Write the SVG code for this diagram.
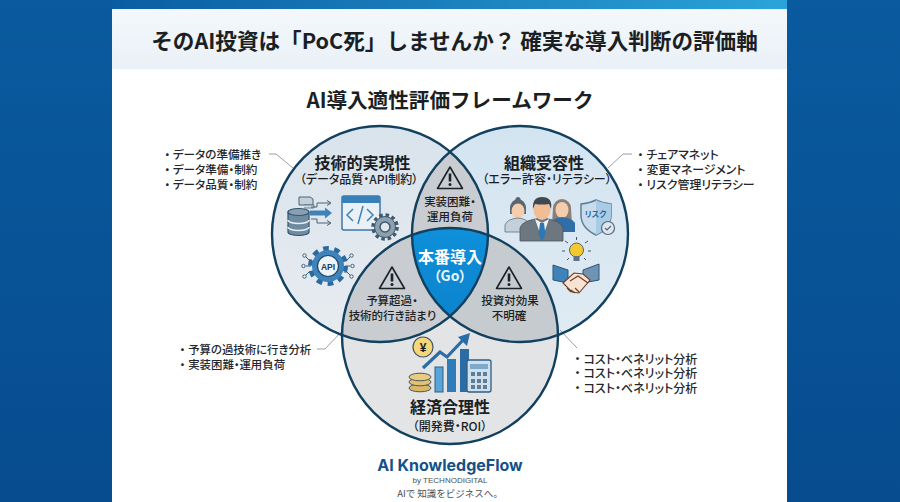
<svg xmlns="http://www.w3.org/2000/svg" width="900" height="502" viewBox="0 0 900 502">
<style>
text{font-family:"Noto Sans CJK JP","Noto Sans",sans-serif;fill:#1b1f24;text-anchor:middle}
.b{font-weight:700}.m{font-weight:500}
.p{font-feature-settings:"palt"}
.li{font-weight:500;text-anchor:start;fill:#23272c;font-feature-settings:"palt"}
.ring{fill:none;stroke:#12405f;stroke-width:2.4}
.lead{fill:none;stroke:#8d959b;stroke-width:.9}
.tri{fill:none;stroke:#1b2228;stroke-width:1.600;stroke-linejoin:round}
.ov{font-size:11.500px;font-weight:500;font-feature-settings:"palt"}
.gd{fill:none;stroke:#4a6577;stroke-width:1}
</style>
<defs>
<linearGradient id="bg" x1="0" y1="0" x2="0" y2="1"><stop offset="0" stop-color="#0a5a9f"/><stop offset="1" stop-color="#064c8e"/></linearGradient>
<linearGradient id="bar" x1="0" y1="0" x2="1" y2="0"><stop offset="0" stop-color="#0a5da3"/><stop offset="1" stop-color="#2ba3da"/></linearGradient>
<linearGradient id="hd" x1="0" y1="0" x2="0" y2="1"><stop offset="0" stop-color="#f4f8fb"/><stop offset="1" stop-color="#e9f0f6"/></linearGradient>
<linearGradient id="lg" x1="0" y1="0" x2="0" y2="1"><stop offset="0" stop-color="#d9e3ec"/><stop offset="1" stop-color="#e8ecf0"/></linearGradient>
<linearGradient id="rg" x1="0" y1="0" x2="0" y2="1"><stop offset="0" stop-color="#d3e4f1"/><stop offset="1" stop-color="#e0ebf3"/></linearGradient>
<linearGradient id="go" x1="0" y1="0" x2="0" y2="1"><stop offset="0" stop-color="#0f90da"/><stop offset="1" stop-color="#0871bb"/></linearGradient>
<clipPath id="cL"><circle cx="380" cy="234" r="108"/></clipPath>
<clipPath id="cR"><circle cx="520" cy="234" r="108"/></clipPath>
<g id="warn"><path class="tri" d="M0-11L12.500 10.500H-12.500Z"/><rect x="-1.300" y="-4.500" width="2.600" height="8" fill="#1b2228"/><circle cy="6.500" r="1.500" fill="#1b2228"/></g>
</defs>
<rect width="900" height="502" fill="url(#bg)"/>
<rect x="112" y="0" width="675" height="9" fill="url(#bar)"/>
<rect x="112" y="9" width="675" height="493" fill="#fff"/>
<rect x="112" y="9" width="675" height="60" fill="url(#hd)"/>
<text id="title" class="b" x="454.500" y="49" font-size="21.600">そのAI投資は「PoC死」しませんか？ 確実な導入判断の評価軸</text>
<text id="subtitle" class="b" x="450" y="108" font-size="20.600">AI導入適性評価フレームワーク</text>

<g id="venn-fills">
<circle cx="380" cy="234" r="108" fill="url(#lg)"/>
<circle cx="520" cy="234" r="108" fill="url(#rg)"/>
<circle cx="450" cy="336" r="108" fill="#e3e4e6"/>
<g clip-path="url(#cL)"><circle cx="520" cy="234" r="108" fill="#c9cdd1"/><circle cx="450" cy="336" r="108" fill="#c9ccd0"/></g>
<g clip-path="url(#cR)"><circle cx="450" cy="336" r="108" fill="#c6cbd0"/></g>
<g clip-path="url(#cL)"><g clip-path="url(#cR)"><circle cx="450" cy="336" r="108" fill="url(#go)"/></g></g>
</g>
<g id="connectors">
<path class="lead" d="M269 154H276L293 168"/>
<path class="lead" d="M632 154H623L608 168"/>
<path class="lead" d="M317 349H325L343 330"/>
<path class="lead" d="M560 330L577 348"/>
<circle class="ring" cx="380" cy="234" r="108"/>
<circle class="ring" cx="520" cy="234" r="108"/>
<circle class="ring" cx="450" cy="336" r="108"/>
</g>

<g id="notes-tl">
<text class="li" font-size="11.600"><tspan x="164.500" y="159">・</tspan><tspan dx="2.500">データの準備推き</tspan><tspan x="164.500" y="174">・</tspan><tspan dx="2.500">データ準備・制約</tspan><tspan x="164.500" y="189">・</tspan><tspan dx="2.500">データ品質・制約</tspan></text>
</g>
<g id="notes-tr">
<text class="li" font-size="11.900"><tspan x="637.500" y="159">・</tspan><tspan dx="3">チェアマネット</tspan><tspan x="637.500" y="174">・</tspan><tspan dx="3">変更マネージメント</tspan><tspan x="637.500" y="189">・</tspan><tspan dx="3">リスク管理リテラシー</tspan></text>
</g>
<g id="notes-bl">
<text class="li" font-size="11.400"><tspan x="179.500" y="353.500">・</tspan><tspan dx="3">予算の過技術に行き分析</tspan><tspan x="179.500" y="369">・</tspan><tspan dx="3">実装困難・運用負荷</tspan></text>
</g>
<g id="notes-br">
<text class="li" font-size="12"><tspan x="574.500" y="363.500">・</tspan><tspan dx="3">コスト・ベネリット分析</tspan><tspan x="574.500" y="378">・</tspan><tspan dx="3">コスト・ベネリット分析</tspan><tspan x="574.500" y="393">・</tspan><tspan dx="3">コスト・ベネリット分析</tspan></text>
</g>

<g id="node-tech">
<text class="b" font-size="16"><tspan x="362.500" y="169">技術的実現性</tspan><tspan class="m p" x="359" y="184" font-size="12">（データ品質・API制約）</tspan></text>
<g id="icon-db">
<path d="M288 212v20a10.500 3.500 0 0 0 21 0v-20z" fill="#6f8ba1" stroke="#33566f" stroke-width="1.200"/>
<ellipse cx="298.500" cy="212" rx="10.500" ry="3.500" fill="#8aa0b2" stroke="#33566f" stroke-width="1.200"/>
<path d="M288 220a10.500 3.500 0 0 0 21 0M288 227a10.500 3.500 0 0 0 21 0" fill="none" stroke="#e9eff4" stroke-width="1.500"/>
</g>
<path d="M299 197h11l3 2v6h-14z" fill="#c3d0da" stroke="#4a6577"/>
<path d="M304 205h10v3h-10" fill="#d3dde5" stroke="#4a6577" stroke-width=".8"/>
<path class="gd" d="M311 207h6v-4h13M327 200.500l4 2.500-4 2.500M311 219h6v4h13M327 220.500l4 2.500-4 2.500"/>
<path d="M310 210.500h15v-3l7 5.500-7 5.500v-3h-15z" fill="#3f83bb"/>
<g id="icon-code">
<rect x="342" y="196" width="38" height="34" rx="2" fill="#e9f0f6" stroke="#3c77a8" stroke-width="1.500"/>
<rect x="342" y="196" width="38" height="7" fill="#3a80b8"/>
<path d="M353 209l-6 6 6 6M367 209l6 6-6 6M363 206l-5 18" fill="none" stroke="#3f83bb" stroke-width="1.500"/>
<circle cx="385" cy="227" r="12" fill="none" stroke="#40596b" stroke-width="3.500" stroke-dasharray="3.500 2.800"/>
<circle cx="385" cy="227" r="10.500" fill="#8ba0b1" stroke="#40596b"/>
<circle cx="385" cy="227" r="5" fill="#dfe7ed" stroke="#40596b" stroke-width="1.500"/>
</g>
<g id="icon-api">
<circle cx="328" cy="266" r="17" fill="none" stroke="#2a6aa0" stroke-width="6" stroke-dasharray="5.500 5.200"/>
<circle cx="328" cy="266" r="16" fill="#3f83bb"/>
<circle cx="328" cy="266" r="10.500" fill="#eef3f7" stroke="#20496a" stroke-width="1.200"/>
<text x="328" y="269.500" class="b" font-size="8.500" style="font-family:'Liberation Sans',sans-serif;fill:#1c3f5c">API</text>
<path d="M312 260h-3l-3-3M311 266h-5M312 272h-3l-3 3M344 260h3l3-3M345 266h5M344 272h3l3 3" fill="none" stroke="#3a5f7c"/>
<g fill="#eef3f7" stroke="#3a5f7c"><circle cx="304.500" cy="255.500" r="1.700"/><circle cx="303.500" cy="266" r="1.700"/><circle cx="304.500" cy="276.500" r="1.700"/><circle cx="351.500" cy="255.500" r="1.700"/><circle cx="352.500" cy="266" r="1.700"/><circle cx="351.500" cy="276.500" r="1.700"/></g>
</g>
</g>

<g id="node-org">
<text class="b" font-size="16"><tspan x="544" y="169">組織受容性</tspan><tspan class="m p" x="547" y="184" font-size="12">（エラー許容・リテラシー）</tspan></text>
<g id="icon-people">
<path d="M510 208a8 9 0 0 1 16 0v6h-16z" fill="#5d6670"/>
<circle cx="518" cy="199.500" r="2.500" fill="#5d6670"/>
<ellipse cx="518" cy="211" rx="6.500" ry="7.500" fill="#f3cdae"/>
<path d="M505 232v-7q2-6 13-7q10 1 12 7v7z" fill="#c4d0da" stroke="#60717e" stroke-width=".8"/>
<path d="M553 208a9 9 0 0 1 18 0l1 16h-20z" fill="#8d7f75"/>
<ellipse cx="562" cy="210" rx="6.500" ry="8" fill="#f3cdae"/>
<path d="M551 232v-9q2-5 11-6q10 1 13 6v9z" fill="#2f6ea6"/>
<path d="M520 241v-13q2-8 22-10q19 2 21 10v13z" fill="#6c7780" stroke="#4a545c" stroke-width=".8"/>
<path d="M535 219l7 4 7-4-7 20z" fill="#f1f4f6"/>
<path d="M540 223h4l1.500 12-3.500 6-3.500-6z" fill="#2e77b4"/>
<ellipse cx="542" cy="210" rx="8.500" ry="10" fill="#f0bd95"/>
<path d="M533 209q-1-12 9-12q11 0 9 12l-2-5q-7 1-14 0z" fill="#3f4850"/>
</g>
<g id="icon-shield">
<path d="M581 204q9-1 15-4q6 3 15 4v11q0 13-15 20q-15-7-15-20z" fill="#c9dcec" stroke="#607f97" stroke-width="1.500"/>
<path d="M596 200q6 3 15 4v11q0 13-15 20z" fill="#a9cbe6"/>
<text x="595.500" y="217" class="b p" font-size="8" style="fill:#2f6a9c">リスク</text>
<circle cx="608" cy="228" r="6.500" fill="#dfe6ec" stroke="#55697a" stroke-width="1.200"/>
<path d="M605 228l2 2 4-4" fill="none" stroke="#55697a" stroke-width="1.200"/>
</g>
<g id="icon-bulb">
<circle cx="576.500" cy="250" r="7" fill="#f4c92f" stroke="#5a6470"/>
<rect x="573.500" y="256" width="6" height="5" fill="#5f7284"/>
<path d="M576.500 240v-3M585 243l3-2M568 243l-3-2M588 251h3M565 251h-3M584 258l2 2M569 258l-2 2" stroke="#4a5560" fill="none"/>
</g>
<g id="icon-hands">
<path d="M553 265l15 5v13l-15-3z" fill="#3f83bb" stroke="#2d5470"/>
<path d="M599 264l-16 6v13l16-3z" fill="#6f94b3" stroke="#2d5470"/>
<path d="M563 283l11-10 9 1 7 6-11 13-7-1z" fill="#f8e3d2" stroke="#6d3d26" stroke-width="1.100"/>
<path d="M570 281l8-5 10 7M567 288l4 4M571 290l4 3M575 288l4 4" fill="none" stroke="#6d3d26" stroke-width="1.100"/>
</g>
</g>

<g id="node-cost">
<text class="b" font-size="16"><tspan x="450" y="413">経済合理性</tspan><tspan class="m p" x="450" y="431" font-size="12">（開発費・ROI）</tspan></text>
<g id="icon-money">
<circle cx="423" cy="347" r="10" fill="#f4d77a" stroke="#3f5568" stroke-width="1.200"/>
<text x="423" y="351.500" class="b" font-size="12" style="font-family:'Liberation Sans',sans-serif">¥</text>
<path d="M423 368l17-16 7 5 16-17" fill="none" stroke="#2a6ca3" stroke-width="3.200"/>
<path d="M458 337l12-4-3 13z" fill="#2a6ca3"/>
<rect x="435" y="367" width="8" height="25" fill="#5aa5d8" stroke="#2d5f85"/>
<rect x="447" y="359" width="9" height="33" fill="#2f7cb8"/>
<rect x="460" y="349" width="9" height="43" fill="#2a6ca3"/>
<ellipse cx="420" cy="388" rx="11" ry="3.800" fill="#d9b964" stroke="#4c5661"/>
<ellipse cx="420" cy="382" rx="11" ry="3.800" fill="#dfc272" stroke="#4c5661"/>
<ellipse cx="420" cy="377" rx="11" ry="3.800" fill="#e8cd80" stroke="#4c5661"/>
<rect x="467" y="360" width="24" height="32" rx="2" fill="#cfdfeb" stroke="#2f5f85" stroke-width="1.300"/>
<rect x="470" y="364" width="18" height="5" fill="#7fa9c8"/>
<g fill="#5e7e97"><rect x="471" y="372" width="4" height="4"/><rect x="477" y="372" width="4" height="4"/><rect x="483" y="372" width="4" height="4"/><rect x="471" y="379" width="4" height="4"/><rect x="477" y="379" width="4" height="4"/><rect x="483" y="379" width="4" height="4"/><rect x="471" y="385" width="4" height="4"/><rect x="477" y="385" width="4" height="4"/><rect x="483" y="385" width="4" height="4"/></g>
</g>
</g>

<g id="node-lr"><use href="#warn" x="450" y="178"/>
<text class="ov"><tspan x="450" y="206">実装困難・</tspan><tspan x="450" y="220.500">運用負荷</tspan></text></g>
<g id="node-lb"><use href="#warn" x="392" y="278"/>
<text class="ov"><tspan x="392" y="305">予算超過・</tspan><tspan x="392.500" y="320">技術的行き詰まり</tspan></text></g>
<g id="node-rb"><use href="#warn" x="509" y="278"/>
<text class="ov"><tspan x="510" y="305">投資対効果</tspan><tspan x="509" y="320">不明確</tspan></text></g>
<g id="node-go">
<text class="b" font-size="16" style="fill:#fff"><tspan x="450" y="263">本番導入</tspan><tspan class="p" x="450" y="281" font-size="14" style="fill:#e8f4fc">（Go）</tspan></text>
</g>

<g id="brand">
<text class="b" x="450" y="471" font-size="16" style="font-family:Inter,'Liberation Sans',sans-serif;fill:#14508a">AI KnowledgeFlow</text>
<text font-size="8" style="fill:#4c5056"><tspan x="450" y="483" style="font-family:'Liberation Sans',sans-serif">by TECHNODIGITAL</tspan><tspan x="450" y="497" font-size="9.500">AIで 知識をビジネスへ。</tspan></text>
</g>
</svg>
